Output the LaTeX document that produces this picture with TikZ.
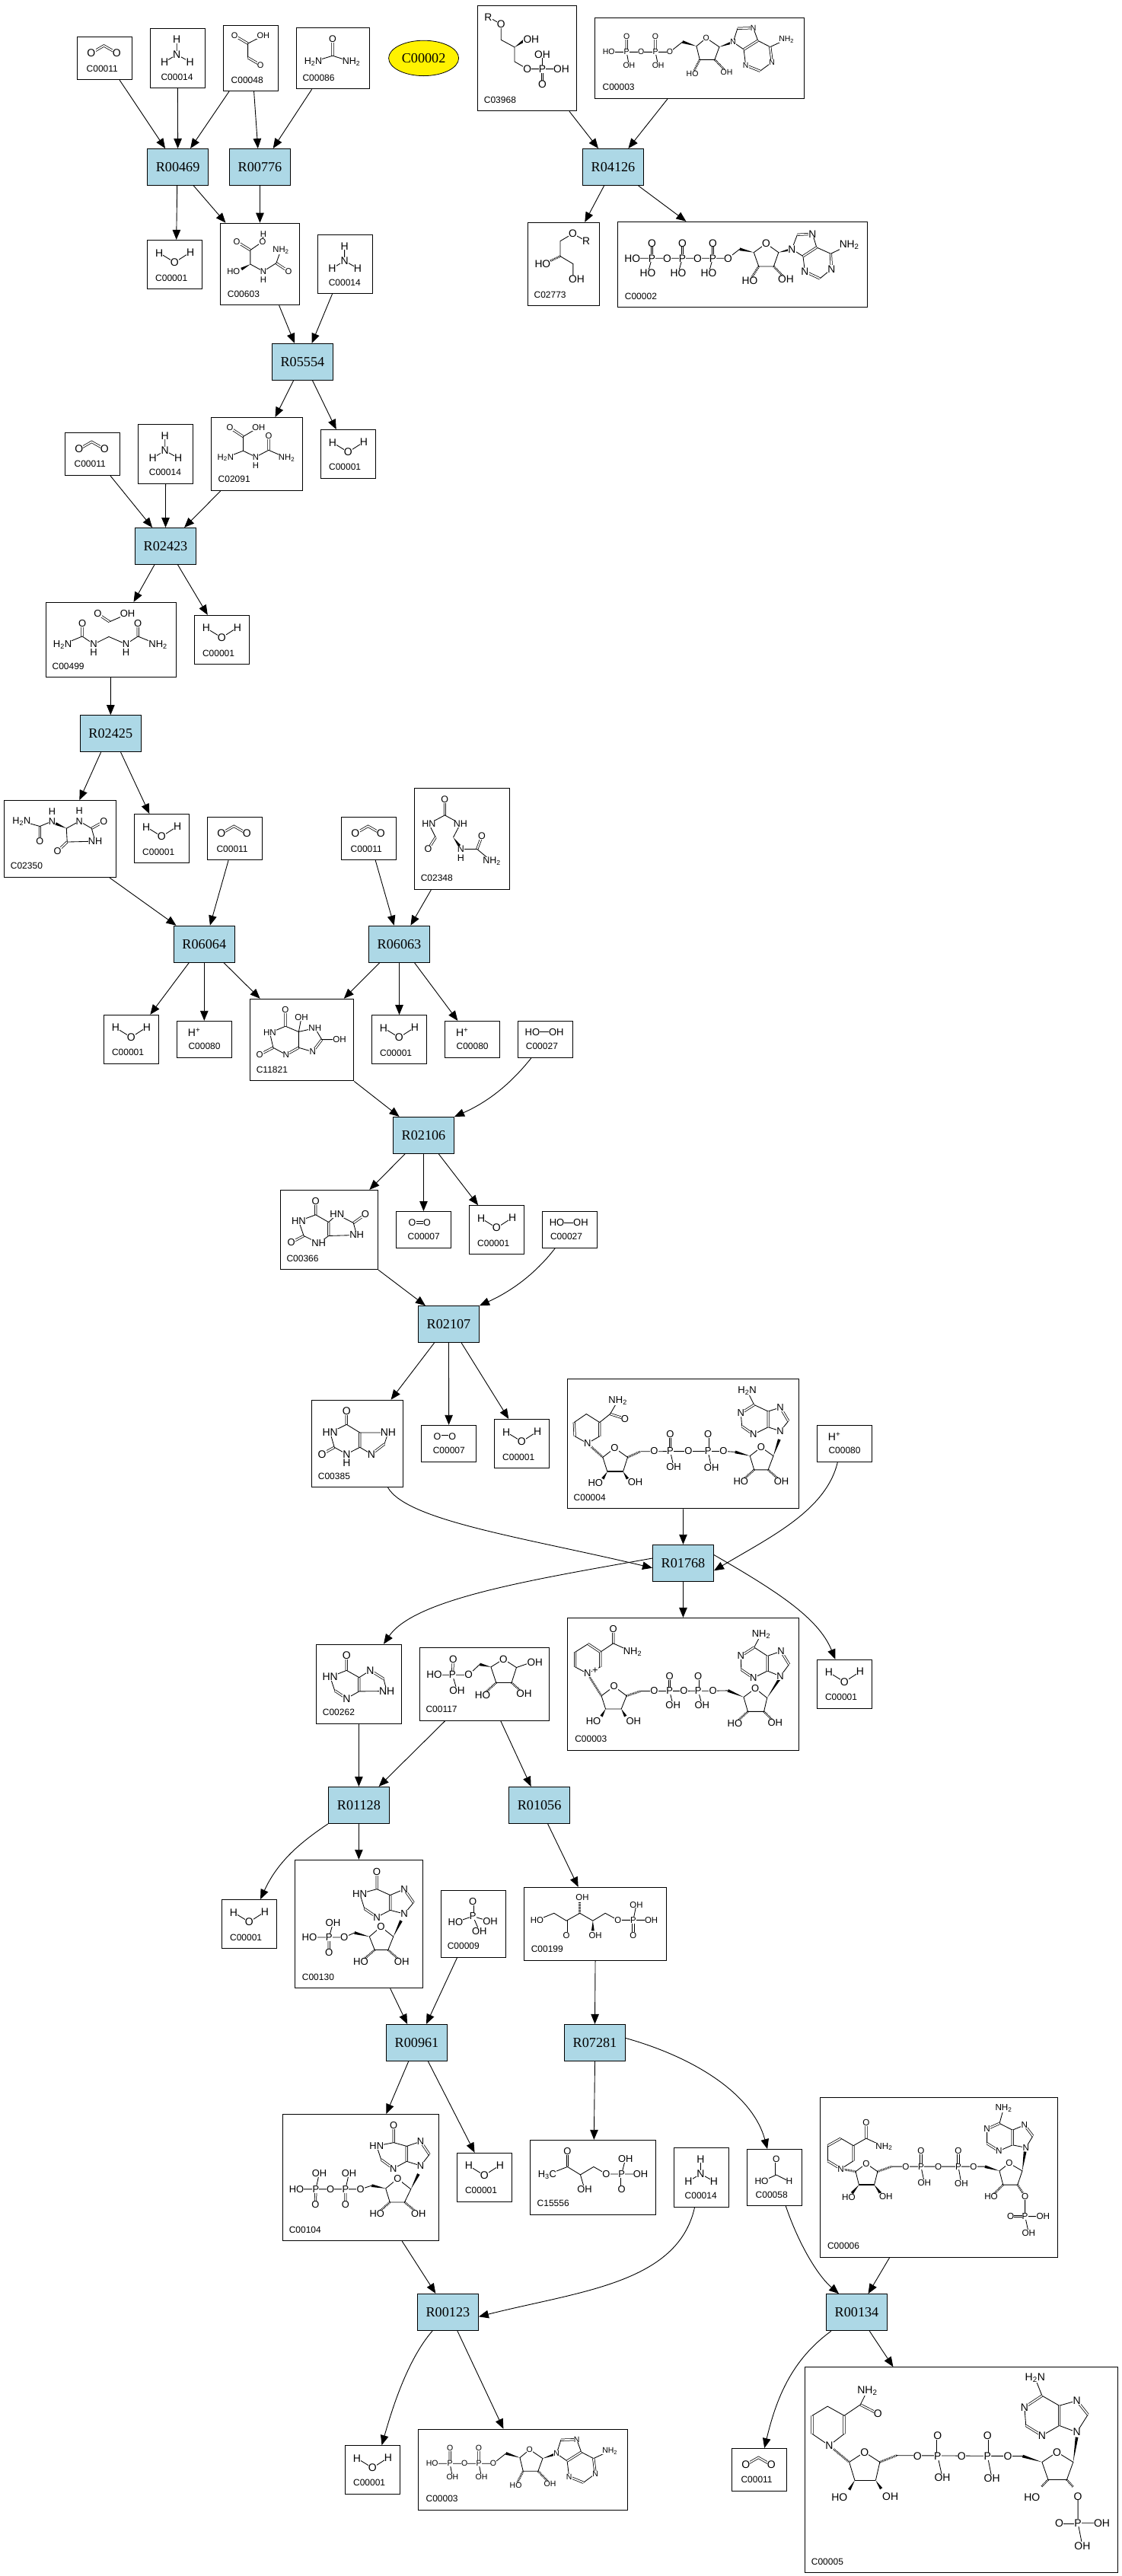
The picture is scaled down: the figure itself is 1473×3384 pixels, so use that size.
\documentclass[tikz,border=0pt]{standalone}
\usepackage{fontspec}
\setmainfont{Liberation Serif}
\setsansfont{Liberation Sans}
\usetikzlibrary{arrows.meta,calc,fit,shapes.geometric}
\definecolor{rxnblue}{RGB}{173,216,230}
\newcommand{\atoms}[3]{\foreach \px/\py/\txt [count=\na] in {#3}
  \node[atom, font=\sffamily\fontsize{#2}{#2}\selectfont] (#1\na) at (\px,\py) {\txt};}
\newcommand{\wdg}[2]{\fill #1 -- ($#2!1.9pt!90:#1$) -- ($#2!1.9pt!-90:#1$) -- cycle;}
\newcommand{\hsh}[2]{\draw[hatch] #1 -- #2;}
\newcommand{\cpd}[7]{\node[cpdbox, fit={(#2,#3)(#4,#5)}] (#1) {};
  \node[idlab] (#1id) at (#2+#7,#5-14.7) {#6};}
\newcommand{\subt}{\textsubscript{2}}
\tikzset{
  rxn/.style={draw, fill=rxnblue, line width=1pt, minimum width=80pt, minimum height=48pt, inner sep=0pt, font=\fontsize{18.2}{18.2}\selectfont},
  cpdbox/.style={draw, line width=1pt, inner sep=0pt},
  idlab/.style={anchor=west, inner sep=0pt, font=\sffamily\fontsize{12}{12}\selectfont},
  atom/.style={fill=white, inner sep=.2pt},
  rx/.style={-{Triangle[length=13pt,width=10.5pt]}, line width=.9pt},
  bnd/.style={line width=.85pt},
  dbl/.style={double, double distance=1.7pt, line width=.75pt},
  bold/.style={line width=1.7pt},
  hatch/.style={line width=2.8pt, dash pattern=on .8pt off 1.1pt},
  z1/.style={x=.4719pt,y=-.3571pt}, z2/.style={x=.3571pt,y=-.3333pt},
  z3/.style={x=.4719pt,y=-.4464pt}, z4/.style={x=.4464pt,y=-.4847pt},
  z5/.style={x=.4592pt,y=-.3444pt}, z6/.style={x=.4082pt,y=-.3954pt},
  z7/.style={x=.4592pt,y=-.4745pt}, z8/.style={x=.3655pt,y=-.4362pt},
  water/.pic={\draw[bnd] (15.6,16.8) -- (35.9,29.3) -- (56.6,16);
    \atoms{a}{14}{15.6/16.8/H,35.9/29.3/O,56.6/16/H}},
  cotwo/.pic={\draw[dbl] (18.4,21.4) -- (35,11.8) -- (51.9,21.4);
    \atoms{a}{14}{18.4/21.4/O,51.9/21.4/O}},
  ammonia/.pic={\draw[bnd] (35,15) -- (35,34.6) -- (18.9,44.3) (35,34.6) -- (52.4,44.3);
    \atoms{a}{14}{35/15/H,35/34.6/N,18.9/44.3/H,52.4/44.3/H}},
  peroxide/.pic={\draw[bnd] (19,14.5) -- (50.4,14.5);
    \atoms{a}{13}{19/14.5/HO,50.4/14.5/OH}},
  dioxygen/.pic={\draw[dbl] (21,14.5) -- (40.6,14.5);
    \atoms{a}{12.5}{21/14.5/O,40.6/14.5/O}},
  proton/.pic={\node[atom, font=\sffamily\fontsize{14}{14}\selectfont] (a) at (22.8,14.5) {H\textsuperscript{+}};},
  adp/.pic={\begin{scope}[z2]
    \draw[bnd] (503,205) -- (728,205) -- (775,165) (569,205) -- (578,259) (675,205) -- (685,259);
    \draw[bnd] (826,182) -- (862,150) -- (910,185) -- (893,235) -- (838,235) -- (826,182);
    \draw[bnd] (961,166) -- (977,112) (1035,110) -- (1052,160) (1000,195) -- (961,166) (1000,195) -- (1007,257) (1060,280) -- (1104,245) (1097,185) -- (1052,160) (1097,185) -- (1157,155);
    \draw[dbl] (569,205) -- (569,145) (675,205) -- (675,145) (977,112) -- (1035,110) (1052,160) -- (1000,195) (1007,257) -- (1060,280) (1104,245) -- (1097,185);
    \wdg{(826,182)}{(775,165)} \wdg{(910,185)}{(961,166)}
    \hsh{(838,235)}{(811,292)} \hsh{(893,235)}{(937,284)}
    \atoms{a}{10.5}{503/205/HO,569/205/P,569/145/O,578/259/OH,622/205/O,675/205/P,675/145/O,685/259/OH,728/205/O,862/150/O,811/292/HO,937/284/OH,961/166/N,1035/110/N,1007/257/N,1104/245/N,1157/155/{NH\subt}}
    \end{scope}}
}
\begin{document}
\begin{tikzpicture}[x=1pt,y=-1pt]
\useasboundingbox (0,0) rectangle (1473,3384);
% reactions
\node[rxn] (R00469) at (233.6,219.5) {R00469};
\node[rxn] (R00776) at (341.5,219.5) {R00776};
\node[rxn] (R05554) at (397.4,475.5) {R05554};
\node[rxn] (R04126) at (805.5,219.5) {R04126};
\node[rxn] (R02423) at (217.5,717.5) {R02423};
\node[rxn] (R02425) at (145.3,963.7) {R02425};
\node[rxn] (R06064) at (268.3,1240.2) {R06064};
\node[rxn] (R06063) at (524.5,1240.2) {R06063};
\node[rxn] (R02106) at (556.5,1491.4) {R02106};
\node[rxn] (R02107) at (589.5,1739.6) {R02107};
\node[rxn] (R01768) at (897.5,2053.3) {R01768};
\node[rxn] (R01128) at (471.4,2371.4) {R01128};
\node[rxn] (R01056) at (708.6,2371.4) {R01056};
\node[rxn] (R00961) at (547.5,2683.4) {R00961};
\node[rxn] (R07281) at (781.5,2683.4) {R07281};
\node[rxn] (R00123) at (588.4,3037.3) {R00123};
\node[rxn] (R00134) at (1125.5,3037.7) {R00134};
\node[draw, fill=yellow, shape=ellipse, line width=.8pt, minimum width=92pt, minimum height=46.4pt, inner sep=0pt, font=\fontsize{18.2}{18.2}\selectfont] (C00002key) at (556.6,76.4) {C00002};
% compound boxes
\cpd{cHa}{193.5}{315.4}{265.7}{379.6}{C00001}{10.5}
\cpd{cHb}{421.4}{564.6}{493.6}{628.4}{C00001}{10.5}
\cpd{cHc}{255.3}{808.3}{327.5}{872.6}{C00001}{10.5}
\cpd{cHd}{176.5}{1069.5}{248.7}{1133.8}{C00001}{10.5}
\cpd{cHe}{136.3}{1333.3}{208.7}{1397.3}{C00001}{10.5}
\cpd{cHf}{488.4}{1333.6}{560.7}{1397.6}{C00001}{10.5}
\cpd{cHg}{616.5}{1583.7}{688.4}{1647.7}{C00001}{10.5}
\cpd{cHh}{649.5}{1864.4}{721.6}{1928.8}{C00001}{10.5}
\cpd{cHi}{1073.3}{2180.1}{1145.3}{2244.5}{C00001}{10.5}
\cpd{cHj}{291.4}{2495.5}{363.7}{2559.6}{C00001}{10.5}
\cpd{cHk}{600.3}{2828.3}{672.4}{2892.4}{C00001}{10.5}
\cpd{cHl}{453.4}{3212.6}{525.5}{3276.1}{C00001}{10.5}
\cpd{cCa}{101.5}{48.2}{173.7}{104.6}{C00011}{12}
\cpd{cCb}{85.4}{568.6}{157.6}{624.4}{C00011}{12}
\cpd{cCc}{272.3}{1073.5}{344.5}{1129.7}{C00011}{12}
\cpd{cCd}{448.5}{1073.5}{520.5}{1129.7}{C00011}{12}
\cpd{cCe}{961.3}{3216.5}{1033.5}{3272.4}{C00011}{12}
\cpd{cNa}{197.3}{37.1}{269.5}{115.7}{C00014}{14}
\cpd{cNb}{417.6}{308.2}{489.4}{385.7}{C00014}{14}
\cpd{cNc}{181.7}{557.4}{253.4}{635.5}{C00014}{14}
\cpd{cNd}{885.5}{2821.2}{957.5}{2899.5}{C00014}{14}
\cpd{cPa}{584.4}{1341.4}{656.7}{1389.4}{C00080}{15}
\cpd{cPb}{232.3}{1341.3}{304.3}{1389.3}{C00080}{15}
\cpd{cPc}{1073.3}{1872.3}{1145.3}{1920.5}{C00080}{15}
\cpd{cXa}{680.4}{1341.4}{752.7}{1389.4}{C00027}{10.3}
\cpd{cXb}{712.5}{1591.5}{784.4}{1639.5}{C00027}{10.3}
\cpd{cOa}{520.5}{1591.5}{592.4}{1639.5}{C00007}{15}
\cpd{cOb}{553.6}{1872.3}{625.6}{1920.5}{C00007}{15}
\cpd{C00048}{293.5}{33.2}{365.7}{119.6}{C00048}{10}
\cpd{C00086}{389.3}{36.4}{485.6}{116.8}{C00086}{8}
\cpd{C00603}{289.3}{293.2}{393.6}{400.7}{C00603}{9.4}
\cpd{C03968}{627.5}{7.3}{757.5}{145.7}{C03968}{8.2}
\cpd{cAa}{781.4}{23.3}{1056.8}{129.3}{C00003}{10}
\cpd{C02773}{693.2}{292.3}{787.5}{401.7}{C02773}{8.2}
\cpd{C00002}{811.4}{291.3}{1139.6}{403.7}{C00002}{9.3}
\cpd{C02091}{277.5}{548.5}{397.4}{644.5}{C02091}{9}
\cpd{C00499}{60.4}{791.3}{231.7}{889.6}{C00499}{8}
\cpd{C02350}{5.7}{1051.6}{152.4}{1152.5}{C02350}{8}
\cpd{C02348}{544.6}{1035.5}{669.7}{1168.5}{C02348}{8}
\cpd{C11821}{328.6}{1312.3}{464.7}{1419.9}{C11821}{8}
\cpd{C00366}{368.3}{1563.4}{496.4}{1667.6}{C00366}{8}
\cpd{C00385}{409.4}{1839.2}{529.7}{1953.6}{C00385}{8.3}
\cpd{C00004}{745.5}{1811.3}{1049.4}{1981.8}{C00004}{8}
\cpd{C00262}{415.4}{2160.2}{527.4}{2264.5}{C00262}{8.3}
\cpd{C00117}{551.3}{2164.3}{721.6}{2260.4}{C00117}{8}
\cpd{cAb}{745.5}{2125.4}{1049.4}{2299.3}{C00003}{9.6}
\cpd{C00130}{387.3}{2443.3}{555.5}{2611.7}{C00130}{9.4}
\cpd{C00009}{579.6}{2483.2}{664.5}{2571.4}{C00009}{8}
\cpd{C00199}{688.6}{2479.3}{875.5}{2575.4}{C00199}{9}
\cpd{C00104}{371.6}{2777.5}{576.6}{2943.6}{C00104}{8}
\cpd{C15556}{696.3}{2811.3}{861.6}{2909.4}{C15556}{9.2}
\cpd{C00058}{981.5}{2823.5}{1053.5}{2897.6}{C00058}{11}
\cpd{C00006}{1077.3}{2755.4}{1389.4}{2965.3}{C00006}{9.5}
\cpd{cAc}{549.4}{3191.2}{824.4}{3297.5}{C00003}{10}
\cpd{C00005}{1057.5}{3109.7}{1468.7}{3379.7}{C00005}{8.2}
% repeated small molecules
\foreach \n/\xx/\yy in {wa/193.5/315.4,wb/421.4/564.6,wc/255.3/808.3,wd/176.5/1069.5,we/136.3/1333.3,wf/488.4/1333.6,wg/616.5/1583.7,wh/649.5/1864.4,wi/1073.3/2180.1,wj/291.4/2495.5,wk/600.3/2828.3,wl/453.4/3212.6}
  \pic (\n) at (\xx,\yy) {water};
\foreach \n/\xx/\yy in {ca/101.5/48.2,cb/85.4/568.6,cc/272.3/1073.5,cd/448.5/1073.5,ce/961.3/3216.5}
  \pic (\n) at (\xx,\yy) {cotwo};
\foreach \n/\xx/\yy in {na/197.3/37.1,nb/417.6/308.2,nc/181.7/557.4,nd/885.5/2821.2}
  \pic (\n) at (\xx,\yy) {ammonia};
\foreach \n/\xx/\yy in {pa/584.4/1341.4,pb/232.3/1341.3,pc/1073.3/1872.3}
  \pic (\n) at (\xx,\yy) {proton};
\foreach \n/\xx/\yy in {xa/680.4/1341.4,xb/712.5/1591.5}
  \pic (\n) at (\xx,\yy) {peroxide};
\foreach \n/\xx/\yy in {oa/520.5/1591.5,ob/553.6/1872.3}
  \pic (\n) at (\xx,\yy) {dioxygen};
\pic (adpa) at (620,0) {adp};
\pic (adpb) at (388,3167.9) {adp};
% structures, top part
\begin{scope}[z1]
\draw[dbl] (653,131) -- (690,160) (690,212) -- (725,239) (926,143) -- (926,205);
\draw[bnd] (690,160) -- (733,131) (690,160) -- (690,212) (872,227) -- (926,205) -- (978,227);
\atoms{g}{11}{653/131/O,733/131/OH,725/239/O}
\atoms{u}{12.5}{926/143/O,872/227/{H\subt N},978/227/{NH\subt}}
\draw[dbl] (659,889) -- (697,920) (769,968) -- (803,998);
\draw[bnd] (733,860) -- (731,889) -- (697,920) -- (697,972) -- (733,998) -- (769,968) -- (782,920);
\wdg{(697,972)}{(672,990)}
\atoms{k}{11.3}{733/860/H,731/889/O,659/889/O,650/998/HO,733/998/N,733/1030/H,782/920/{NH\subt},803/998/O}
\end{scope}
\begin{scope}[shift={(620,0)},z2]
\draw[bnd] (60,67) -- (107,95) -- (107,157) -- (157,186) -- (157,243) -- (204,272) -- (329,272) (259,272) -- (259,214);
\draw[dbl] (259,272) -- (259,332);
\wdg{(157,186)}{(192,160)}
\atoms{h}{13.8}{60/67/R,107/95/O,218/155/OH,204/272/O,259/272/P,259/214/OH,329/272/OH,259/332/O}
\draw[bnd] (371,921) -- (420,950) (371,921) -- (325,950) -- (325,1010) -- (372,1040) -- (372,1100);
\hsh{(325,1010)}{(285,1030)}
\atoms{i}{13.8}{371/921/O,420/950/R,260/1040/HO,385/1100/OH}
\draw[bnd] (590,1018) -- (942,1018) -- (985,982) (662,1018) -- (647,1077) (774,1018) -- (759,1077) (886,1018) -- (871,1077);
\draw[dbl] (662,1018) -- (662,958) (774,1018) -- (774,958) (886,1018) -- (886,958);
\draw[bnd] (1037,995) -- (1082,960) -- (1128,995) -- (1110,1050) -- (1055,1050) -- (1037,995);
\wdg{(1037,995)}{(985,982)} \wdg{(1128,995)}{(1177,982)}
\hsh{(1055,1050)}{(1022,1106)} \hsh{(1110,1050)}{(1155,1100)}
\draw[bnd] (1177,982) -- (1197,925) (1253,922) -- (1268,975) (1218,1010) -- (1177,982) (1218,1010) -- (1225,1070) (1280,1098) -- (1323,1060) (1320,1000) -- (1268,975) (1320,1000) -- (1388,965);
\draw[dbl] (1197,925) -- (1253,922) (1268,975) -- (1218,1010) (1225,1070) -- (1280,1098) (1323,1060) -- (1320,1000);
\atoms{t}{13.8}{590/1018/HO,662/1018/P,662/958/O,647/1077/HO,718/1018/O,774/1018/P,774/958/O,759/1077/HO,830/1018/O,886/1018/P,886/958/O,871/1077/HO,942/1018/O,1082/960/O,1022/1106/HO,1155/1100/OH,1177/982/N,1253/922/N,1225/1070/N,1323/1060/N,1388/965/{NH\subt}}
\end{scope}
\begin{scope}[shift={(0,540)},z3]
\draw[dbl] (640,49) -- (677,75) (748,73) -- (748,115);
\draw[bnd] (720,48) -- (677,75) -- (677,117) -- (628,137) (677,117) -- (712,135) -- (748,115) -- (798,138);
\atoms{v}{11.3}{640/49/O,720/48/OH,628/137/{H\subt N},712/135/N,712/160/H,748/73/O,798/138/{NH\subt}}
\draw[dbl] (272,597) -- (305,620) (229,626) -- (229,663) (384,626) -- (384,663);
\draw[bnd] (305,620) -- (355,597) (174,687) -- (229,663) -- (261,686) -- (303,664) -- (351,686) -- (384,663) -- (440,687);
\atoms{m}{13}{272/597/O,355/597/OH,229/626/O,174/687/{H\subt N},261/686/N,261/710/H,351/686/N,351/710/H,384/626/O,440/687/{NH\subt}}
\draw[dbl] (111,1266) -- (111,1222) (255,1228) -- (289,1208) (187,1268) -- (160,1295);
\draw[bnd] (60,1207) -- (111,1222) -- (145,1207) (185,1228) -- (221,1207) -- (255,1228) -- (265,1266) -- (187,1268) -- (185,1228);
\wdg{(185,1228)}{(155,1214)}
\atoms{s}{12.7}{60/1207/{H\subt N},111/1266/O,145/1207/N,145/1179/H,221/1207/N,221/1177/H,289/1208/O,265/1266/NH,160/1295/O}
\end{scope}
\begin{scope}[shift={(300,1020)},z4]
\draw[dbl] (637,62) -- (637,105) (610,165) -- (588,197) (732,197) -- (746,162);
\draw[bnd] (590,128) -- (637,105) -- (683,128) -- (662,165) (590,128) -- (610,165) (684,197) -- (732,197) -- (775,230);
\wdg{(662,165)}{(680,188)}
\atoms{q}{12.5}{637/62/O,590/128/HN,683/128/NH,588/197/O,684/197/N,684/222/H,746/162/O,775/230/{NH\subt}}
\draw[dbl] (168,632) -- (168,677) (132,735) -- (92,754) (170,754) -- (207,735) (275,713) -- (248,746);
\draw[bnd] (168,677) -- (122,695) -- (132,735) -- (170,754) (207,735) -- (207,692) -- (168,677) (207,692) -- (215,653) (207,692) -- (255,682) -- (275,713) -- (327,713) (248,746) -- (207,735);
\atoms{y}{11.6}{168/632/O,122/695/HN,92/754/O,170/754/N,215/653/OH,255/682/NH,327/713/OH,248/746/N}
\draw[dbl] (257,1151) -- (257,1188) (222,1245) -- (185,1263) (295,1245) -- (295,1208) (368,1210) -- (403,1187);
\draw[bnd] (257,1188) -- (207,1205) -- (222,1245) -- (266,1265) -- (295,1245) (295,1208) -- (257,1188) (295,1208) -- (320,1187) -- (368,1210) -- (378,1243) -- (295,1245);
\atoms{r}{13}{257/1151/O,207/1205/HN,185/1263/O,266/1265/NH,320/1187/HN,403/1187/O,378/1243/NH}
\end{scope}
\begin{scope}[shift={(380,1780)},z5]
\draw[dbl] (164,215) -- (164,265) (129,352) -- (94,378) (202,352) -- (202,296) (272,340) -- (235,378);
\draw[bnd] (164,265) -- (117,296) -- (129,352) -- (164,378) -- (202,352) (202,296) -- (164,265) (202,296) -- (283,296) -- (272,340) (235,378) -- (202,352);
\atoms{x}{14}{164/215/O,117/296/HN,94/378/O,164/378/N,164/410/H,283/296/NH,235/378/N}
% C00004
\draw[dbl] (918,225) -- (960,243) (815,257) -- (817,310) (888,310) -- (888,257);
\draw[bnd] (940,175) -- (918,225) -- (888,257) -- (850,225) -- (815,257) (817,310) -- (853,337) -- (888,310);
\hsh{(853,337)}{(897,390)}
\draw[bnd] (897,390) -- (931,355) -- (968,390) -- (955,445) (910,445) -- (897,390);
\draw[bold] (910,445) -- (955,445);
\wdg{(910,445)}{(897,472)} \wdg{(955,445)}{(968,472)}
\hsh{(968,390)}{(1005,368)}
\draw[bnd] (1005,368) -- (1242,367) -- (1278,370) (1090,367) -- (1100,427) (1198,367) -- (1208,430);
\draw[dbl] (1090,367) -- (1090,302) (1198,367) -- (1198,302);
\wdg{(1318,385)}{(1276,370)}
\draw[bnd] (1318,385) -- (1350,352) -- (1385,385) -- (1370,438) -- (1330,438) -- (1318,385);
\hsh{(1330,438)}{(1292,483)} \hsh{(1370,438)}{(1408,483)}
\wdg{(1385,385)}{(1402,322)}
\draw[bnd] (1310,137) -- (1330,190) (1292,222) -- (1295,272) (1328,303) -- (1370,275) (1370,215) -- (1330,190) (1370,215) -- (1405,200) (1428,252) -- (1405,290) -- (1370,275);
\draw[dbl] (1330,190) -- (1292,222) (1295,272) -- (1328,303) (1370,275) -- (1370,215) (1405,200) -- (1428,252);
\atoms{d}{13}{940/175/{NH\subt},960/243/O,853/337/N,931/355/O,876/488/HO,990/485/OH,1044/367/O,1090/367/P,1090/302/O,1100/427/OH,1142/367/O,1198/367/P,1198/302/O,1208/430/OH,1242/367/O,1350/352/O,1292/483/HO,1408/483/OH,1310/137/{H\subt N},1292/222/N,1328/303/N,1405/200/N,1405/290/N}
% C00003 in NAD form
\draw[dbl] (927,1045) -- (927,1100) (818,1133) -- (818,1190) (890,1190) -- (890,1133) (855,1102) -- (890,1133);
\draw[bnd] (982,1133) -- (927,1100) -- (890,1133) (855,1102) -- (818,1133) (818,1190) -- (853,1215) -- (890,1190);
\hsh{(853,1215)}{(893,1300)}
\draw[bnd] (893,1300) -- (929,1264) -- (965,1300) -- (950,1350) -- (905,1350) -- (893,1300);
\wdg{(905,1350)}{(893,1378)} \wdg{(950,1350)}{(962,1378)}
\hsh{(965,1300)}{(1005,1282)}
\draw[bnd] (1005,1282) -- (1212,1281) -- (1255,1280) (1088,1281) -- (1098,1335) (1170,1281) -- (1181,1335);
\draw[dbl] (1088,1281) -- (1088,1226) (1170,1281) -- (1170,1226);
\wdg{(1300,1305)}{(1255,1280)}
\draw[bnd] (1300,1305) -- (1333,1272) -- (1367,1308) -- (1358,1360) -- (1312,1360) -- (1300,1305);
\hsh{(1312,1360)}{(1275,1405)} \hsh{(1358,1360)}{(1390,1403)}
\wdg{(1367,1308)}{(1405,1230)}
\draw[bnd] (1350,1065) -- (1330,1115) (1292,1148) -- (1293,1200) (1328,1232) -- (1368,1205) (1368,1148) -- (1330,1115) (1368,1148) -- (1407,1130) (1430,1180) -- (1405,1225) -- (1368,1205);
\draw[dbl] (1330,1115) -- (1292,1148) (1293,1200) -- (1328,1232) (1368,1205) -- (1368,1148) (1407,1130) -- (1430,1180);
\atoms{e}{13}{927/1045/O,982/1133/{NH\subt},853/1215/N,929/1264/O,870/1397/HO,985/1397/OH,1044/1281/O,1088/1281/P,1088/1226/O,1098/1335/OH,1129/1281/O,1170/1281/P,1170/1226/O,1181/1335/OH,1212/1281/O,1333/1272/O,1275/1405/HO,1390/1403/OH,1350/1065/{NH\subt},1292/1148/N,1328/1232/N,1407/1130/N,1405/1225/N,875/1203/+}
% C00262
\draw[dbl] (164,1147) -- (164,1203) (130,1280) -- (164,1310) (200,1283) -- (200,1230) (232,1203) -- (270,1235);
\draw[bnd] (164,1203) -- (117,1228) -- (130,1280) (164,1310) -- (200,1283) (200,1230) -- (164,1203) (200,1230) -- (232,1203) (270,1235) -- (279,1282) -- (200,1283);
\atoms{b}{14}{164/1147/O,117/1228/HN,164/1310/N,232/1203/N,279/1282/NH}
% C00117
\draw[dbl] (467,1220) -- (469,1160);
\draw[bnd] (415,1220) -- (513,1220) -- (545,1180) (467,1220) -- (480,1280) (577,1190) -- (613,1160) -- (650,1192) -- (636,1250) -- (592,1250) -- (577,1190) (650,1192) -- (680,1178);
\wdg{(577,1190)}{(545,1180)}
\hsh{(592,1250)}{(553,1297)} \hsh{(636,1250)}{(672,1293)}
\atoms{f}{13.5}{415/1220/HO,467/1220/P,469/1160/O,480/1280/OH,513/1220/O,613/1160/O,553/1297/HO,672/1293/OH,703/1173/OH}
\end{scope}
\begin{scope}[shift={(280,2280)},z6]
% C00130
\draw[dbl] (527,453) -- (527,510) (487,575) -- (527,603) (570,580) -- (570,530) (615,510) -- (645,555) (373,670) -- (373,720);
\draw[bnd] (527,510) -- (472,525) -- (487,575) (527,603) -- (570,580) (570,530) -- (527,510) (570,530) -- (615,510) (645,555) -- (615,592) -- (570,580);
\wdg{(580,668)}{(605,615)}
\draw[bnd] (503,668) -- (540,635) -- (580,668) -- (563,712) -- (520,712) -- (503,668);
\wdg{(503,668)}{(455,655)}
\hsh{(520,712)}{(475,752)} \hsh{(563,712)}{(607,752)}
\draw[bnd] (455,655) -- (422,670) -- (310,670) (373,670) -- (386,622);
\atoms{l}{13.2}{527/453/O,472/525/HN,527/603/N,615/510/N,615/592/N,540/635/O,475/752/HO,607/752/OH,422/670/O,373/670/P,386/622/OH,310/670/HO,373/720/O}
% C00009
\draw[dbl] (836,552) -- (836,600);
\draw[bnd] (780,620) -- (836,600) -- (892,618) (836,600) -- (857,650);
\atoms{o}{13}{836/552/O,836/600/P,780/620/HO,892/618/OH,857/650/OH}
% C00199
\draw[dbl] (1137,615) -- (1137,663) (1352,613) -- (1352,663);
\draw[bnd] (1042,613) -- (1097,590) -- (1137,615) -- (1180,590) -- (1222,615) -- (1262,590) -- (1303,613) -- (1410,613) (1352,613) -- (1362,562);
\hsh{(1180,590)}{(1180,552)}
\wdg{(1222,615)}{(1222,648)}
\atoms{w}{11.4}{1042/613/HO,1137/663/O,1188/538/OH,1230/663/OH,1303/613/O,1352/613/P,1362/562/OH,1410/613/OH,1352/663/O}
\end{scope}
\begin{scope}[shift={(340,2640)},z7]
% C00104
\draw[dbl] (386,321) -- (386,368) (350,415) -- (385,440) (423,420) -- (423,378) (463,365) -- (488,401) (248,497) -- (248,540) (163,497) -- (162,540);
\draw[bnd] (386,368) -- (337,377) -- (350,415) (385,440) -- (423,420) (423,378) -- (386,368) (423,378) -- (463,365) (488,401) -- (463,432) -- (423,420);
\wdg{(435,497)}{(457,455)}
\draw[bnd] (363,495) -- (397,468) -- (435,497) -- (417,533) -- (375,533) -- (363,495);
\wdg{(363,495)}{(323,487)}
\hsh{(375,533)}{(338,565)} \hsh{(417,533)}{(457,565)}
\draw[bnd] (323,487) -- (291,497) -- (108,497) (248,497) -- (258,453) (163,497) -- (173,453);
\atoms{c}{12.9}{386/321/O,337/377/HN,385/440/N,463/365/N,463/432/N,397/468/O,338/565/HO,457/565/OH,291/497/O,248/497/P,258/453/OH,248/540/O,205/497/O,163/497/P,173/453/OH,162/540/O,108/497/HO}
% C15556
\draw[dbl] (883,392) -- (883,435) (1038,455) -- (1038,497);
\draw[bnd] (825,457) -- (883,435) -- (920,457) -- (958,435) -- (994,455) -- (1092,455) (920,457) -- (932,497) (1038,455) -- (1049,413);
\atoms{j}{12.9}{883/392/O,825/457/{H\textsubscript{3}C},932/497/OH,994/455/O,1038/455/P,1049/413/OH,1092/455/OH,1038/497/O}
\end{scope}
\begin{scope}[shift={(900,2700)},z8]
% C00058
\draw[dbl] (328,313) -- (328,360);
\draw[bnd] (275,380) -- (328,360) -- (375,380);
\atoms{fa}{12}{328/313/O,275/380/HO,375/380/H}
% C00006
\draw[dbl] (651,203) -- (651,250) (560,250) -- (513,272) (513,318) -- (560,342) (605,318) -- (605,272);
\draw[bnd] (715,275) -- (651,250) -- (605,272) -- (560,250) (513,272) -- (513,318) (560,342) -- (605,318);
\hsh{(560,342)}{(613,350)}
\draw[bnd] (613,350) -- (651,326) -- (692,350) -- (680,390) (625,390) -- (613,350);
\draw[bold] (625,390) -- (680,390);
\wdg{(625,390)}{(600,415)} \wdg{(680,390)}{(702,415)}
\hsh{(692,350)}{(742,335)}
\draw[bnd] (742,335) -- (1037,335) (848,335) -- (860,383) (982,335) -- (993,386);
\draw[dbl] (848,335) -- (848,288) (982,335) -- (982,288);
\wdg{(1130,348)}{(1078,335)}
\draw[bnd] (1037,335) -- (1078,335) (1130,348) -- (1165,325) -- (1212,348) -- (1195,390) -- (1143,390) -- (1130,348);
\hsh{(1143,390)}{(1100,426)} \hsh{(1195,390)}{(1222,425)}
\wdg{(1212,348)}{(1222,290)}
\draw[bnd] (1222,425) -- (1222,485) -- (1287,485) (1222,485) -- (1235,535);
\draw[dbl] (1170,485) -- (1222,485);
\draw[bnd] (1145,160) -- (1130,205) (1085,222) -- (1085,265) (1128,288) -- (1177,270) (1177,225) -- (1130,205) (1177,225) -- (1220,210) (1250,243) -- (1225,278) -- (1177,270);
\draw[dbl] (1130,205) -- (1085,222) (1085,265) -- (1128,288) (1177,270) -- (1177,225) (1220,210) -- (1250,243);
\atoms{n}{11.7}{651/203/O,715/275/{NH\subt},560/342/N,651/326/O,588/428/HO,722/425/OH,793/335/O,848/335/P,848/288/O,860/383/OH,910/335/O,982/335/P,982/288/O,993/386/OH,1037/335/O,1165/325/O,1100/426/HO,1222/425/O,1222/485/P,1170/485/O,1287/485/OH,1235/535/OH,1145/160/{NH\subt},1085/222/N,1128/288/N,1220/210/N,1225/278/N}
% C00005
\draw[dbl] (630,1052) -- (693,1079) (457,1085) -- (457,1140) (572,1140) -- (572,1085);
\draw[bnd] (655,1010) -- (630,1052) -- (572,1085) -- (512,1057) -- (457,1085) (457,1140) -- (518,1175) -- (572,1140);
\hsh{(518,1175)}{(590,1225)}
\draw[bnd] (590,1225) -- (645,1195) -- (700,1225) -- (685,1280) (610,1280) -- (590,1225);
\draw[bold] (610,1280) -- (685,1280);
\wdg{(610,1280)}{(590,1308)} \wdg{(685,1280)}{(705,1305)}
\hsh{(700,1225)}{(760,1205)}
\draw[bnd] (760,1205) -- (1213,1207) (908,1207) -- (925,1272) (1087,1207) -- (1103,1274);
\draw[dbl] (908,1207) -- (908,1145) (1087,1207) -- (1087,1145);
\wdg{(1283,1225)}{(1213,1207)}
\draw[bnd] (1283,1225) -- (1337,1195) -- (1395,1225) -- (1372,1278) -- (1305,1278) -- (1283,1225);
\hsh{(1305,1278)}{(1280,1300)} \hsh{(1372,1278)}{(1395,1300)}
\wdg{(1395,1225)}{(1408,1150)}
\draw[bnd] (1412,1328) -- (1412,1408) -- (1498,1408) (1412,1408) -- (1428,1477);
\draw[dbl] (1345,1408) -- (1412,1408);
\draw[bnd] (1258,972) -- (1283,1025) (1220,1060) -- (1225,1115) (1283,1145) -- (1345,1115) (1345,1055) -- (1283,1025) (1345,1055) -- (1408,1040) (1448,1082) -- (1408,1135) -- (1345,1115);
\draw[dbl] (1283,1025) -- (1220,1060) (1225,1115) -- (1283,1145) (1345,1115) -- (1345,1055) (1408,1040) -- (1448,1082);
\atoms{p}{14}{655/1010/{NH\subt},693/1079/O,518/1175/N,645/1195/O,555/1330/HO,738/1328/OH,835/1207/O,908/1207/P,908/1145/O,925/1272/OH,994/1207/O,1087/1207/P,1087/1145/O,1103/1274/OH,1160/1207/O,1337/1195/O,1247/1330/HO,1412/1328/O,1412/1408/P,1345/1408/O,1498/1408/OH,1428/1477/OH,1258/972/{H\subt N},1220/1060/N,1283/1145/N,1408/1040/N,1408/1135/N}
\end{scope}
% straight connectors: source, shift at source, target, shift at target
\foreach \a/\p/\b/\q in {cCa/19.5/R00469/-16.5,cNa/0/R00469/0,C00048/-28.6/R00469/16.5,C00048/4/R00776/-2.7,C00086/-27.8/R00776/17.2,R00469/-0.9/cHa/2.1,R00469/20.8/C00603/-45,R00776/0/C00603/0,C00603/25.2/R05554/-10.4,cNb/-17/R05554/12.2,R05554/-11.8/C02091/24,R05554/13.2/cHb/-15.8,cCb/23.4/R02423/-17.4,cNc/0/R02423/0,C02091/-47.7/R02423/24.6,R02423/-14.6/C00499/29.5,R02423/16.1/cHc/-18.6,C00499/-0.6/R02425/0,R02425/-12.7/C02350/25.3,R02425/13.3/cHd/-16.3,C02350/64.9/R06064/-36.8,cCc/-8.3/R06064/7.6,cCd/8.7/R06063/-6.8,C02348/-40.8/R06063/14.9,R06064/-20/cHe/24.8,R06064/0/cPb/0,R06064/25.7/C11821/-55,R06063/-25.8/C11821/55.1,R06063/0/cHf/0,R06063/20/cPa/-19.2,R02106/-24.4/C00366/53,R02106/0/cOa/0,R02106/19.8/cHg/-24.3,R02107/-19/C00385/44,R02107/0/cOb/0,R02107/16.7/cHh/-17.3,C00004/0/R01768/0,R01768/0/cAb/0,C00262/0/R01128/0,C00117/-52/R01128/26.2,C00117/21.4/R01056/-11,R01128/0/C00130/0,R01056/11/C00199/-22.4,C00199/0/R07281/0,C00130/41.3/R00961/-12.4,C00009/-21.6/R00961/12.5,R00961/-10.8/C00104/33.2,R00961/14.9/cHk/-12.8,R07281/0/C15556/1.4,C00104/54.1/R00123/-16.1,C00006/-64.8/R00134/15,R00123/12.4/cAc/-25.5,R00134/16.8/C00005/-89.7,C03968/55.4/R04126/-19.5,cAa/-42/R04126/19.9,R04126/-11.9/C02773/27.9,R04126/33.1/C00002/-74.1}
  \draw[rx] ([xshift=\p]\a.south) -- ([xshift=\q]\b.north);
% corner starts
\draw[rx] (C11821.south east) -- ([xshift=-31.9]R02106.north);
\draw[rx] (C00366.south east) -- ([xshift=-30.6]R02107.north);
% curved connectors
\draw[rx] ([xshift=-18.7]cXa.south) .. controls (670,1425) and (640,1448) .. (R02106.north east);
\draw[rx] ([xshift=-19.4]cXb.south) .. controls (702,1675) and (670,1697) .. (R02107.north east);
\draw[rx] ([xshift=40]C00385.south) .. controls (535,1998) and (690,2020) .. ([yshift=-6.4]R01768.west);
\draw[rx] ([xshift=-9]cPc.south) .. controls (1085,1985) and (1010,2020) .. ([yshift=-10]R01768.east);
\draw[rx] ([yshift=6.3]R01768.west) .. controls (700,2075) and (545,2100) .. ([xshift=32.6]C00262.north);
\draw[rx] ([yshift=10.7]R01768.east) .. controls (1020,2090) and (1075,2125) .. ([xshift=-12]cHi.north);
\draw[rx] (R01128.south west) .. controls (395,2420) and (365,2445) .. ([xshift=14.5]cHj.north);
\draw[rx] ([yshift=6]R07281.east) .. controls (920,2705) and (990,2755) .. ([xshift=-9.4]C00058.north);
\draw[rx] ([xshift=-9]cNd.south) .. controls (890,3000) and (760,3010) .. ([yshift=-6]R00123.east);
\draw[rx] ([xshift=14.8]C00058.south) .. controls (1050,2950) and (1075,2990) .. ([xshift=-23.4]R00134.north);
\draw[rx] ([xshift=-20.2]R00123.south) .. controls (535,3100) and (515,3165) .. ([xshift=12.1]cHl.north);
\draw[rx] ([xshift=-33.6]R00134.south) .. controls (1040,3100) and (1020,3150) .. ([xshift=6.8]cCe.north);
\end{tikzpicture}
\end{document}
